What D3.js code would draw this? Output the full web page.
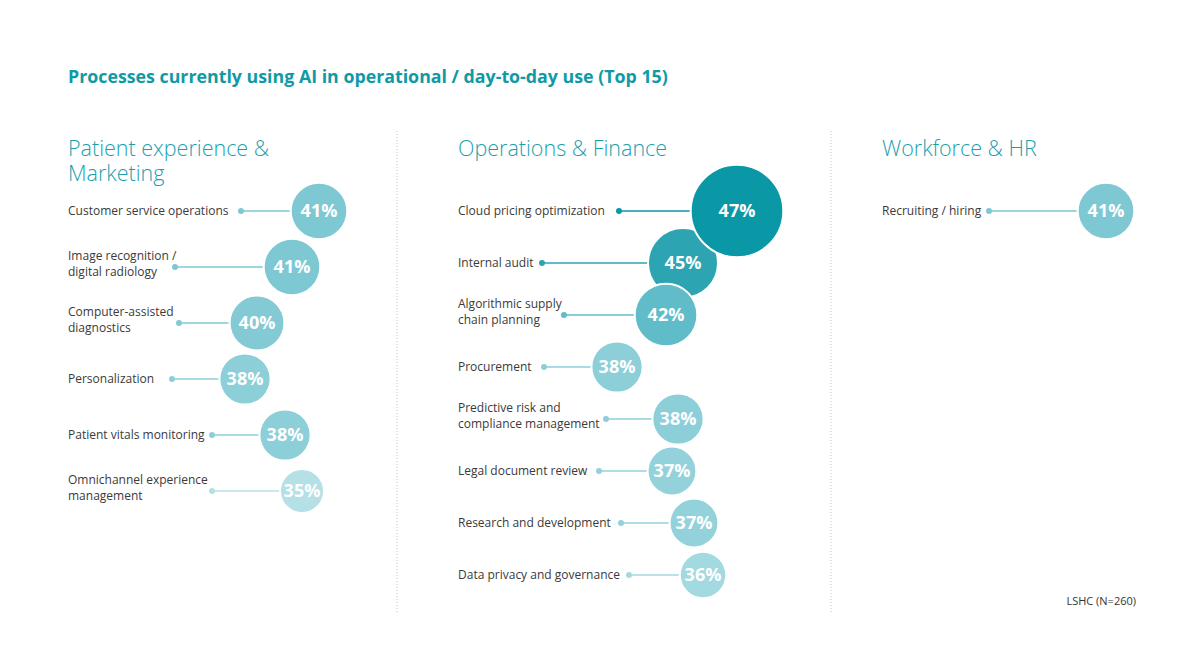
<!DOCTYPE html>
<html>
<head>
<meta charset="utf-8">
<script src="https://cdn.jsdelivr.net/npm/d3@7"></script>
<style>
  body { margin: 0; background: #fff; }
  svg text { font-family: "Open Sans", "Noto Sans", sans-serif; }
</style>
</head>
<body>
<div id="graph"></div>
<script>
const W = 1200, H = 669;

// data
const titleText = "Processes currently using AI in operational / day-to-day use (Top 15)";
const sourceText = "LSHC (N=260)";

const patientTitle = ["Patient experience &", "Marketing"];
const patientLabels = ["Customer service operations", "Image recognition /\ndigital radiology",
  "Computer-assisted\ndiagnostics", "Personalization", "Patient vitals monitoring",
  "Omnichannel experience\nmanagement"];
const patientValues = [41, 41, 40, 38, 38, 35];

const opsTitle = ["Operations & Finance"];
const opsLabels = ["Cloud pricing optimization", "Internal audit", "Algorithmic supply\nchain planning",
  "Procurement", "Predictive risk and\ncompliance management", "Legal document review",
  "Research and development", "Data privacy and governance"];
const opsValues = [47, 45, 42, 38, 38, 37, 37, 36];

const hrTitle = ["Workforce & HR"];
const hrLabels = ["Recruiting / hiring"];
const hrValues = [41];

// layout (hand placed in the original, offsets from each column's left edge)
const columnX = [68, 458, 882];
const rowStep = [56, 52, 52];
const patientDotX = [173, 107, 111, 104, 144, 144];
const patientBubbleX = [251, 224, 189, 177, 217, 234];
const opsDotX = [161, 84, 106, 86, 148, 141, 163, 171];
const opsBubbleX = [279, 225, 208, 159, 220, 214, 236, 245];
const hrDotX = [107];
const hrBubbleX = [224];

const columns = [
  {title: patientTitle, labels: patientLabels, values: patientValues, dotX: patientDotX, bubbleX: patientBubbleX},
  {title: opsTitle, labels: opsLabels, values: opsValues, dotX: opsDotX, bubbleX: opsBubbleX},
  {title: hrTitle, labels: hrLabels, values: hrValues, dotX: hrDotX, bubbleX: hrBubbleX}
];

// scales
const r = d3.scaleLinear()
  .domain([35, 38, 41, 42, 45, 47])
  .range([22, 25.6, 28.3, 31.3, 35, 46.3]);

const color = d3.scaleLinear()
  .domain([35, 36, 37, 38, 41, 42, 45, 47])
  .range(["#b4e0e6", "#a3d9e0", "#94d2db", "#8dcfd9", "#7ec8d3", "#5fbcc8", "#2ca4b2", "#0a97a6"]);

const svg = d3.select("#graph")
  .append("svg")
  .attr("width", W)
  .attr("height", H);

// title
svg.append("text")
  .attr("x", 68)
  .attr("y", 83)
  .attr("fill", "#0f9aa6")
  .attr("font-size", 17.8)
  .attr("font-weight", 700)
  .text(titleText);

// dotted dividers
[397, 831].forEach(x => {
  svg.append("line")
    .attr("x1", x).attr("x2", x)
    .attr("y1", 131).attr("y2", 612)
    .attr("stroke", "#c8c8c8")
    .attr("stroke-width", 1)
    .attr("stroke-dasharray", "1,2");
});

columns.forEach((col, ci) => {
  const x0 = columnX[ci];
  const g = svg.append("g").attr("transform", `translate(${x0},0)`);

  // column heading, one text per line
  col.title.forEach((line, i) => {
    g.append("text")
      .attr("x", 0)
      .attr("y", 156 + i * 25)
      .attr("fill", "#1b9fb0")
      .attr("font-size", 21.5)
      .attr("font-weight", 300)
      .text(line);
  });

  const y = d3.scalePoint()
    .domain(col.labels)
    .range([211, 211 + (col.labels.length - 1) * rowStep[ci]]);

  const rows = col.labels.map((label, i) => ({
    label, value: col.values[i], dx: col.dotX[i], bx: col.bubbleX[i], i
  }));

  // labels
  rows.forEach(d => {
    const lines = d.label.split("\n");
    g.append("text")
      .attr("fill", "#3a3a3a")
      .attr("font-size", 12)
      .selectAll("tspan")
      .data(lines)
      .join("tspan")
      .attr("x", 0)
      .attr("y", (l, k) => lines.length > 1 ? y(d.label) - 7 + k * 16 : y(d.label) + 4)
      .text(l => l);
  });

  // stems
  g.selectAll(".stem")
    .data(rows)
    .join("line")
    .attr("class", "stem")
    .attr("x1", d => d.dx)
    .attr("x2", d => d.bx)
    .attr("y1", d => y(d.label))
    .attr("y2", d => y(d.label))
    .attr("stroke", d => color(d.value))
    .attr("stroke-width", 1.5);

  g.selectAll(".dot")
    .data(rows)
    .join("circle")
    .attr("class", "dot")
    .attr("cx", d => d.dx)
    .attr("cy", d => y(d.label))
    .attr("r", 3)
    .attr("fill", d => color(d.value));

  // bubbles
  const bubble = g.selectAll(".bubble")
    .data(rows)
    .join("g")
    .attr("class", "bubble")
    .attr("transform", d => `translate(${d.bx},${y(d.label)})`);

  bubble.append("circle")
    .attr("r", d => r(d.value))
    .attr("fill", d => color(d.value))
    .attr("stroke", "#fff")
    .attr("stroke-width", 2);

  bubble.append("text")
    .attr("text-anchor", "middle")
    .attr("dy", "0.36em")
    .attr("fill", "#fff")
    .attr("font-size", 18)
    .attr("font-weight", 700)
    .text(d => d.value + "%");

  // biggest bubble sits on top
  const top = d3.max(col.values);
  bubble.filter(d => d.value === top && col.values.length > 1).raise();
});

// source note
svg.append("text")
  .attr("x", 1136)
  .attr("y", 605)
  .attr("text-anchor", "end")
  .attr("fill", "#333")
  .attr("font-size", 11)
  .text(sourceText);
</script>
</body>
</html>
